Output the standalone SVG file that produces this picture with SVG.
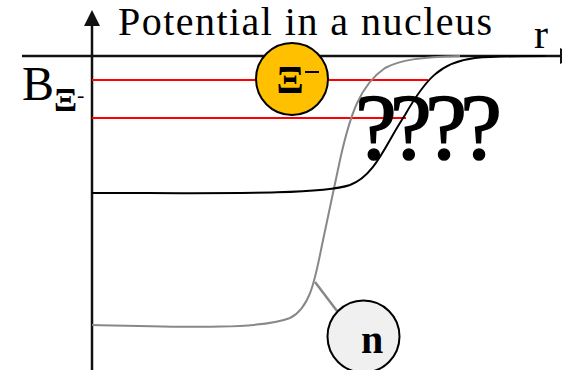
<svg xmlns="http://www.w3.org/2000/svg" width="562" height="370" viewBox="0 0 562 370">
<style>
.serif{font-family:"Liberation Serif","DejaVu Serif",serif;fill:#000}
.axis{stroke:#111;stroke-width:2.5;fill:none}
.red{stroke:#ff0000;stroke-width:2;fill:none}
.pot{stroke:#000;stroke-width:2;fill:none}
.potg{stroke:#888;stroke-width:2;fill:none}
.node{stroke:#000;stroke-width:2}
</style>
<rect width="562" height="370" fill="#fff"/>
<!-- axes -->
<line class="axis" x1="92" y1="370" x2="92" y2="22"/>
<polygon points="92,10 84,26 100,26" fill="#111"/>
<line class="axis" x1="22" y1="56" x2="562" y2="56"/>
<polygon points="560,48 576,56 560,64" fill="#111"/>
<text class="serif" x="118" y="35" font-size="40" textLength="374" lengthAdjust="spacing">Potential in a nucleus</text>
<text class="serif" x="534" y="48" font-size="42">r</text>
<text class="serif" x="22" y="100" font-size="48">B<tspan font-size="34" font-weight="bold" dy="11">Ξ</tspan><tspan font-size="22" dy="-9">-</tspan></text>
<!-- levels -->
<line class="red" x1="92" y1="80" x2="428" y2="80"/>
<line class="red" x1="92" y1="118" x2="406" y2="118"/>
<!-- question marks -->
<text class="serif" x="355" y="158" font-size="94" stroke="#000" stroke-width="1.5" textLength="147" lengthAdjust="spacing">????</text>
<!-- potentials -->
<path class="potg" d="M92,325 C180,327 260,330 290,318 C310,308 315,280 322,245 L340,160 C350,115 360,85 385,68 C400,60 420,57 460,56"/>
<path class="pot" d="M92,193 C220,193 320,195 350,185 C375,176 385,145 405,115 C425,80 440,62 475,58 C500,56 520,56 545,56"/>
<g id="connectors">
<line x1="315" y1="282" x2="337" y2="311" stroke="#888" stroke-width="2.5"/>
</g>
<g id="xi">
<circle class="node" cx="292" cy="79" r="36" fill="#FFC000"/>
<text class="serif" x="290" y="93" font-size="40" font-weight="bold" text-anchor="middle">Ξ</text>
<line x1="305" y1="72" x2="319" y2="72" stroke="#000" stroke-width="2"/>
</g>
<g id="n">
<circle class="node" cx="363.5" cy="336.5" r="36" fill="#f0f0f0"/>
<text class="serif" x="372" y="353" font-size="40" font-weight="bold" text-anchor="middle">n</text>
</g>
</svg>
